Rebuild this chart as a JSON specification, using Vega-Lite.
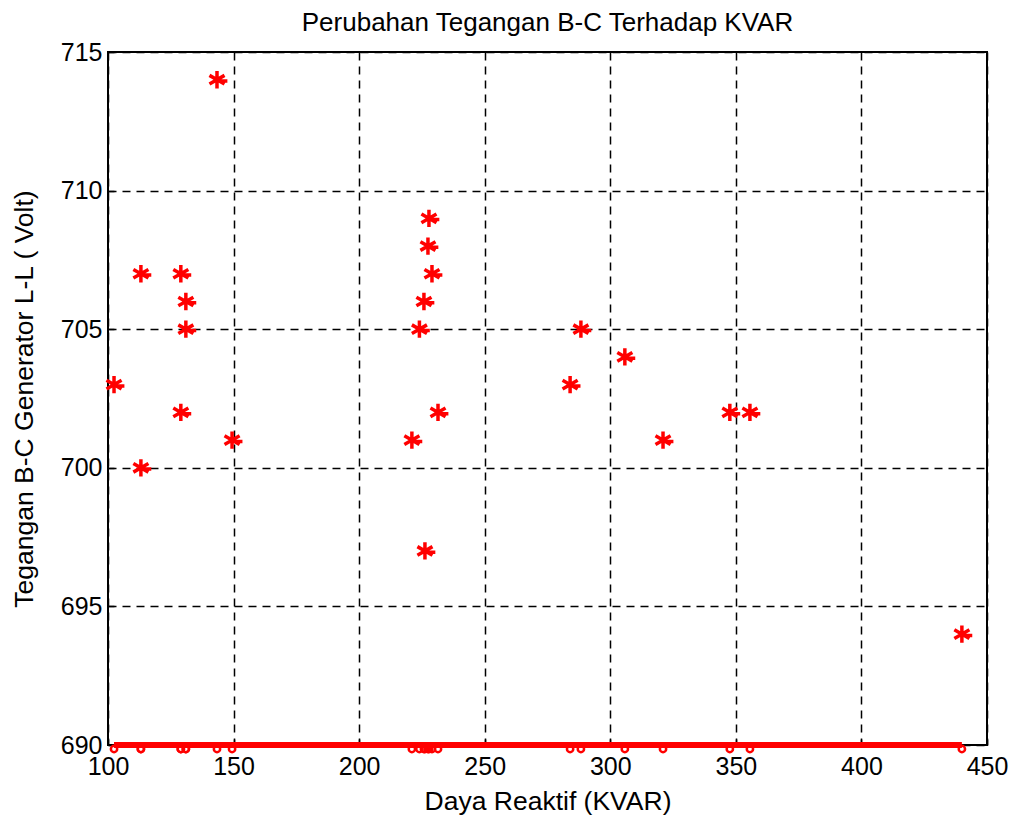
{
  "$schema": "https://vega.github.io/schema/vega-lite/v6.json",
  "width": 879,
  "height": 693,
  "autosize": {"type": "none"},
  "padding": {"left": 108, "top": 52, "right": 29, "bottom": 77},
  "background": "white",
  "title": {"text": "Perubahan Tegangan B-C Terhadap KVAR", "font": "Liberation Sans", "fontSize": 26, "fontWeight": "normal", "color": "black", "offset": 4},
  "config": {
    "view": {"stroke": "black", "strokeWidth": 2},
    "axis": {"labelFont": "Liberation Sans", "titleFont": "Liberation Sans", "labelFontSize": 25, "titleFontSize": 26.5, "titleFontWeight": "normal", "labelColor": "black", "titleColor": "black", "domain": false, "tickColor": "black", "tickSize": -6, "tickWidth": 1.5, "grid": true, "gridColor": "black", "gridDash": [8, 6], "gridWidth": 1.5, "gridOpacity": 1, "labelFlush": false, "labelOverlap": false}
  },
  "data": {"values": [
    {"kvar": 102.4, "v": 703},
    {"kvar": 113.1, "v": 707},
    {"kvar": 113.1, "v": 700},
    {"kvar": 129, "v": 707},
    {"kvar": 131, "v": 706},
    {"kvar": 131, "v": 705},
    {"kvar": 129, "v": 702},
    {"kvar": 143.4, "v": 714},
    {"kvar": 149.4, "v": 701},
    {"kvar": 221, "v": 701},
    {"kvar": 224, "v": 705},
    {"kvar": 225.8, "v": 706},
    {"kvar": 227.4, "v": 708},
    {"kvar": 227.8, "v": 709},
    {"kvar": 229, "v": 707},
    {"kvar": 231.4, "v": 702},
    {"kvar": 226.2, "v": 697},
    {"kvar": 284, "v": 703},
    {"kvar": 288.3, "v": 705},
    {"kvar": 305.8, "v": 704},
    {"kvar": 321, "v": 701},
    {"kvar": 347.6, "v": 702},
    {"kvar": 355.6, "v": 702},
    {"kvar": 440, "v": 694}
  ]},
  "layer": [
    {
      "mark": {"type": "line", "color": "red", "strokeWidth": 6, "clip": false},
      "encoding": {
        "x": {"field": "kvar", "type": "quantitative", "sort": null, "scale": {"domain": [100, 450], "nice": false, "zero": false},
          "axis": {"values": [100, 150, 200, 250, 300, 350, 400, 450], "title": "Daya Reaktif (KVAR)", "labelPadding": 15, "titlePadding": 9}},
        "y": {"datum": 690, "type": "quantitative", "scale": {"domain": [690, 715], "nice": false, "zero": false},
          "axis": {"values": [690, 695, 700, 705, 710, 715], "title": "Tegangan B-C Generator L-L  ( Volt)", "labelPadding": 12, "titlePadding": 22}},
        "order": {"field": "kvar", "type": "quantitative"}
      }
    },
    {
      "mark": {"type": "point", "shape": "circle", "filled": false, "color": "red", "strokeWidth": 2.5, "size": 40, "opacity": 1, "yOffset": 4, "clip": false},
      "encoding": {
        "x": {"field": "kvar", "type": "quantitative"},
        "y": {"datum": 690, "type": "quantitative"}
      }
    },
    {
      "mark": {"type": "point", "shape": "M0,-1L0,1M-0.87,-0.5L0.87,0.5M-0.87,0.5L0.87,-0.5M-0.3,0.15L1.2,0.15", "filled": false, "color": "red", "strokeWidth": 3.5, "size": 300, "opacity": 1},
      "encoding": {
        "x": {"field": "kvar", "type": "quantitative"},
        "y": {"field": "v", "type": "quantitative"}
      }
    }
  ]
}
